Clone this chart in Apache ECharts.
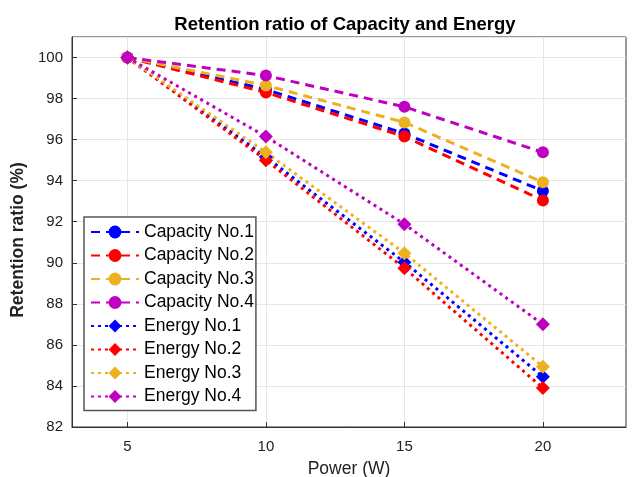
<!DOCTYPE html>
<html><head><meta charset="utf-8">
<script src="https://cdn.jsdelivr.net/npm/echarts@6/dist/echarts.min.js"></script>
<style>html,body{margin:0;padding:0;background:#fff}#c{width:634px;height:477px}</style>
</head><body><div id="c"></div>
<script>
const power = [5, 10, 15, 20];
const capNo1 = [100, 98.44, 96.3, 93.5];
const capNo2 = [100, 98.3, 96.15, 93.04];
const capNo3 = [100, 98.64, 96.84, 93.92];
const capNo4 = [100, 99.12, 97.6, 95.38];
const engNo1 = [100, 95.15, 90.03, 84.45];
const engNo2 = [100, 95.0, 89.74, 83.9];
const engNo3 = [100, 95.38, 90.47, 84.94];
const engNo4 = [100, 96.15, 91.88, 87.0];
const xTicks = [5, 10, 15, 20];

const colors = ['#0000FF', '#FF0000', '#EDB120', '#C000C0'];
const font = 'Liberation Sans, Arial, sans-serif';
function mk(name, vals, color, dashed) {
  return {
    name: name, type: 'line',
    data: power.map((p, i) => [p, vals[i]]),
    symbol: dashed ? 'circle' : 'diamond',
    symbolSize: dashed ? 12 : 14,
    itemStyle: { color: color },
    lineStyle: { color: color, width: 3, type: dashed ? [9, 6] : [3, 4] },
    z: 3
  };
}
const series = [
  mk('Capacity No.1', capNo1, colors[0], true),
  mk('Capacity No.2', capNo2, colors[1], true),
  mk('Capacity No.3', capNo3, colors[2], true),
  mk('Capacity No.4', capNo4, colors[3], true),
  mk('Energy No.1', engNo1, colors[0], false),
  mk('Energy No.2', engNo2, colors[1], false),
  mk('Energy No.3', engNo3, colors[2], false),
  mk('Energy No.4', engNo4, colors[3], false)
];
const chart = echarts.init(document.getElementById('c'));
chart.setOption({
  animation: false,
  backgroundColor: '#fff',
  title: { text: 'Retention ratio of Capacity and Energy', left: 340, top: 10, textAlign: 'center',
    textStyle: { fontFamily: font, fontSize: 18.5, fontWeight: 'bold', color: '#000' } },
  grid: { left: 72, right: 8, top: 37, bottom: 50, show: true, borderColor: '#333', borderWidth: 1,
    containLabel: false, outerBoundsMode: 'none' },
  legend: {
    orient: 'vertical', left: 84, top: 217, itemWidth: 48, itemHeight: 16, itemGap: 5.5,
    padding: [6, 2, 5, 6],
    backgroundColor: '#fff', borderColor: '#555', borderWidth: 1.5,
    textStyle: { fontFamily: font, fontSize: 17.5, color: '#000' }
  },
  xAxis: {
    type: 'value', min: 3, max: 23,
    name: 'Power (W)', nameLocation: 'middle', nameGap: 33,
    nameTextStyle: { fontFamily: font, fontSize: 17.5, color: '#222' },
    axisLine: { lineStyle: { color: '#333' } },
    axisTick: { inside: true, customValues: xTicks, lineStyle: { color: '#333' } },
    axisLabel: { customValues: xTicks, fontFamily: font, fontSize: 15, color: '#222', margin: 12 },
    splitLine: { show: true, lineStyle: { color: '#e6e6e6' } }
  },
  yAxis: {
    type: 'value', min: 82, max: 101, interval: 2,
    name: 'Retention ratio (%)', nameLocation: 'middle', nameGap: 44,
    nameTextStyle: { fontFamily: font, fontSize: 17.5, fontWeight: 'bold', color: '#222', padding: [0, 16, 0, 0] },
    axisLine: { show: true, lineStyle: { color: '#333' } },
    axisTick: { show: true, inside: true, lineStyle: { color: '#333' } },
    axisLabel: { fontFamily: font, fontSize: 15, color: '#222', margin: 9, showMaxLabel: false },
    splitLine: { show: true, lineStyle: { color: '#e6e6e6' } }
  },
  series: series
});
</script></body></html>
